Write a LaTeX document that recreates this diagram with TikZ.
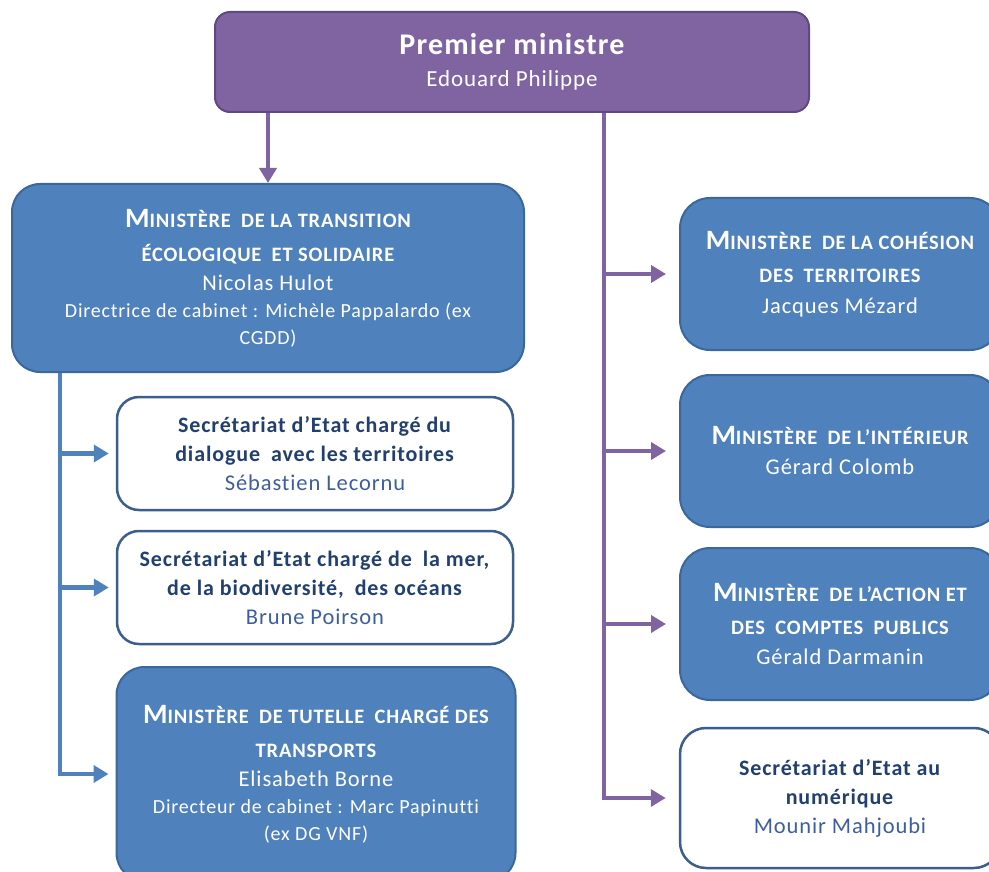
\documentclass[tikz,border=0pt]{standalone}
\usepackage{fontspec}
\setmainfont{Carlito}[LetterSpace=4, Ligatures=NoCommon]
\usetikzlibrary{arrows.meta}
\definecolor{pmfill}{HTML}{8064A2}
\definecolor{pmdraw}{HTML}{5E4A80}
\definecolor{bfill}{HTML}{4F81BD}
\definecolor{bdraw}{HTML}{3A689C}
\definecolor{wdraw}{HTML}{3B5E8C}
\definecolor{sectext}{HTML}{22406F}
\definecolor{secname}{HTML}{3F5E9E}
\newcommand\sct[2]{{\bfseries\fontsize{28}{27}\selectfont #1}{\bfseries\fontsize{20.5}{27}\selectfont #2}}
\newcommand\nm[1]{{\fontsize{22.5}{27}\selectfont #1}}
\tikzset{
  pmbox/.style={rectangle, rounded corners=15pt, fill=pmfill, draw=pmdraw, line width=2pt, text=white, align=center, inner sep=0pt},
  bbox/.style={rectangle, rounded corners=28pt, fill=bfill, draw=bdraw, line width=2pt, text=white, align=center, inner sep=0pt, font=\fontsize{20}{27}\selectfont},
  wbox/.style={rectangle, rounded corners=22pt, fill=white, draw=wdraw, line width=2.5pt, text=sectext, align=center, inner sep=0pt, font=\fontsize{22}{29}\selectfont},
  parrow/.style={draw=pmfill, line width=4.5pt, -{Triangle[length=15pt,width=17pt]}},
  barrow/.style={draw=bfill, line width=4.5pt, -{Triangle[length=15pt,width=17pt]}},
}
\begin{document}
\begin{tikzpicture}[x=1pt,y=-1pt]
\useasboundingbox (0,0) rectangle (989,872);
\clip (0,0) rectangle (989,872);
\node[pmbox, minimum width=594, minimum height=100, font=\fontsize{23}{32}\selectfont] (pm) at (512,62)
  {{\bfseries\fontsize{30}{32}\selectfont Premier ministre}\\ Edouard Philippe};
\node[bbox, minimum width=512, minimum height=188] (trans) at (268,278)
  {\sct{M}{INISTÈRE\enspace DE LA TRANSITION}\\[7pt]
   \sct{}{ÉCOLOGIQUE\enspace ET SOLIDAIRE}\\[2pt]
   \nm{Nicolas Hulot}\\
   Directrice de cabinet : Michèle Pappalardo (ex\\
   CGDD)};
\node[wbox, minimum width=396, minimum height=113] (sec1) at (315,453.5)
  {\textbf{Secrétariat d’Etat chargé du}\\
   \textbf{dialogue\enspace avec les territoires}\\
   {\color{secname}\fontsize{22.5}{29}\selectfont Sébastien Lecornu}};
\node[wbox, minimum width=396, minimum height=113] (sec2) at (315,587.5)
  {\textbf{Secrétariat d’Etat chargé de\enspace la mer,}\\
   \textbf{de la biodiversité,\enspace des océans}\\
   {\color{secname}\fontsize{22.5}{29}\selectfont Brune Poirson}};
\node[bbox, minimum width=399, minimum height=214] (transp) at (316,774)
  {\sct{M}{INISTÈRE\enspace DE TUTELLE\enspace CHARGÉ DES}\\[7pt]
   \sct{}{TRANSPORTS}\\[2pt]
   \nm{Elisabeth Borne}\\
   Directeur de cabinet : Marc Papinutti\\
   (ex DG VNF)};
\node[bbox, rounded corners=30pt, minimum width=320, minimum height=152] (coh) at (840,274)
  {\sct{M}{INISTÈRE\enspace DE LA COHÉSION}\\[6pt]
   \sct{}{DES\enspace TERRITOIRES}\\[4pt]
   \nm{Jacques Mézard}};
\node[bbox, rounded corners=30pt, minimum width=320, minimum height=152] (int) at (840,451)
  {\sct{M}{INISTÈRE\enspace DE L’INTÉRIEUR}\\[3pt]
   \nm{Gérard Colomb}};
\node[bbox, rounded corners=30pt, minimum width=320, minimum height=152] (act) at (840,624)
  {\sct{M}{INISTÈRE\enspace DE L’ACTION ET}\\[6pt]
   \sct{}{DES\enspace COMPTES\enspace PUBLICS}\\[3pt]
   \nm{Gérald Darmanin}};
\node[wbox, rounded corners=26pt, minimum width=320, minimum height=140] (num) at (840,798)
  {\textbf{Secrétariat d’Etat au}\\
   \textbf{numérique}\\
   {\color{secname}\fontsize{22.5}{29}\selectfont Mounir Mahjoubi}};
% connectors
\coordinate (pvx) at (604,0);
\coordinate (bvx) at (60,0);
\draw[parrow] (pm.south -| trans.north) -- (trans.north);
\draw[parrow, shorten >=13pt] (pm.south -| pvx) |- (num.west);
\draw[parrow, shorten >=13pt] (pvx |- coh.west) -- (coh.west);
\draw[parrow, shorten >=13pt] (pvx |- int.west) -- (int.west);
\draw[parrow, shorten >=13pt] (pvx |- act.west) -- (act.west);
\draw[barrow, shorten >=7pt] (trans.south -| bvx) |- (transp.west);
\draw[barrow, shorten >=7pt] (bvx |- sec1.west) -- (sec1.west);
\draw[barrow, shorten >=7pt] (bvx |- sec2.west) -- (sec2.west);
\end{tikzpicture}
\end{document}
